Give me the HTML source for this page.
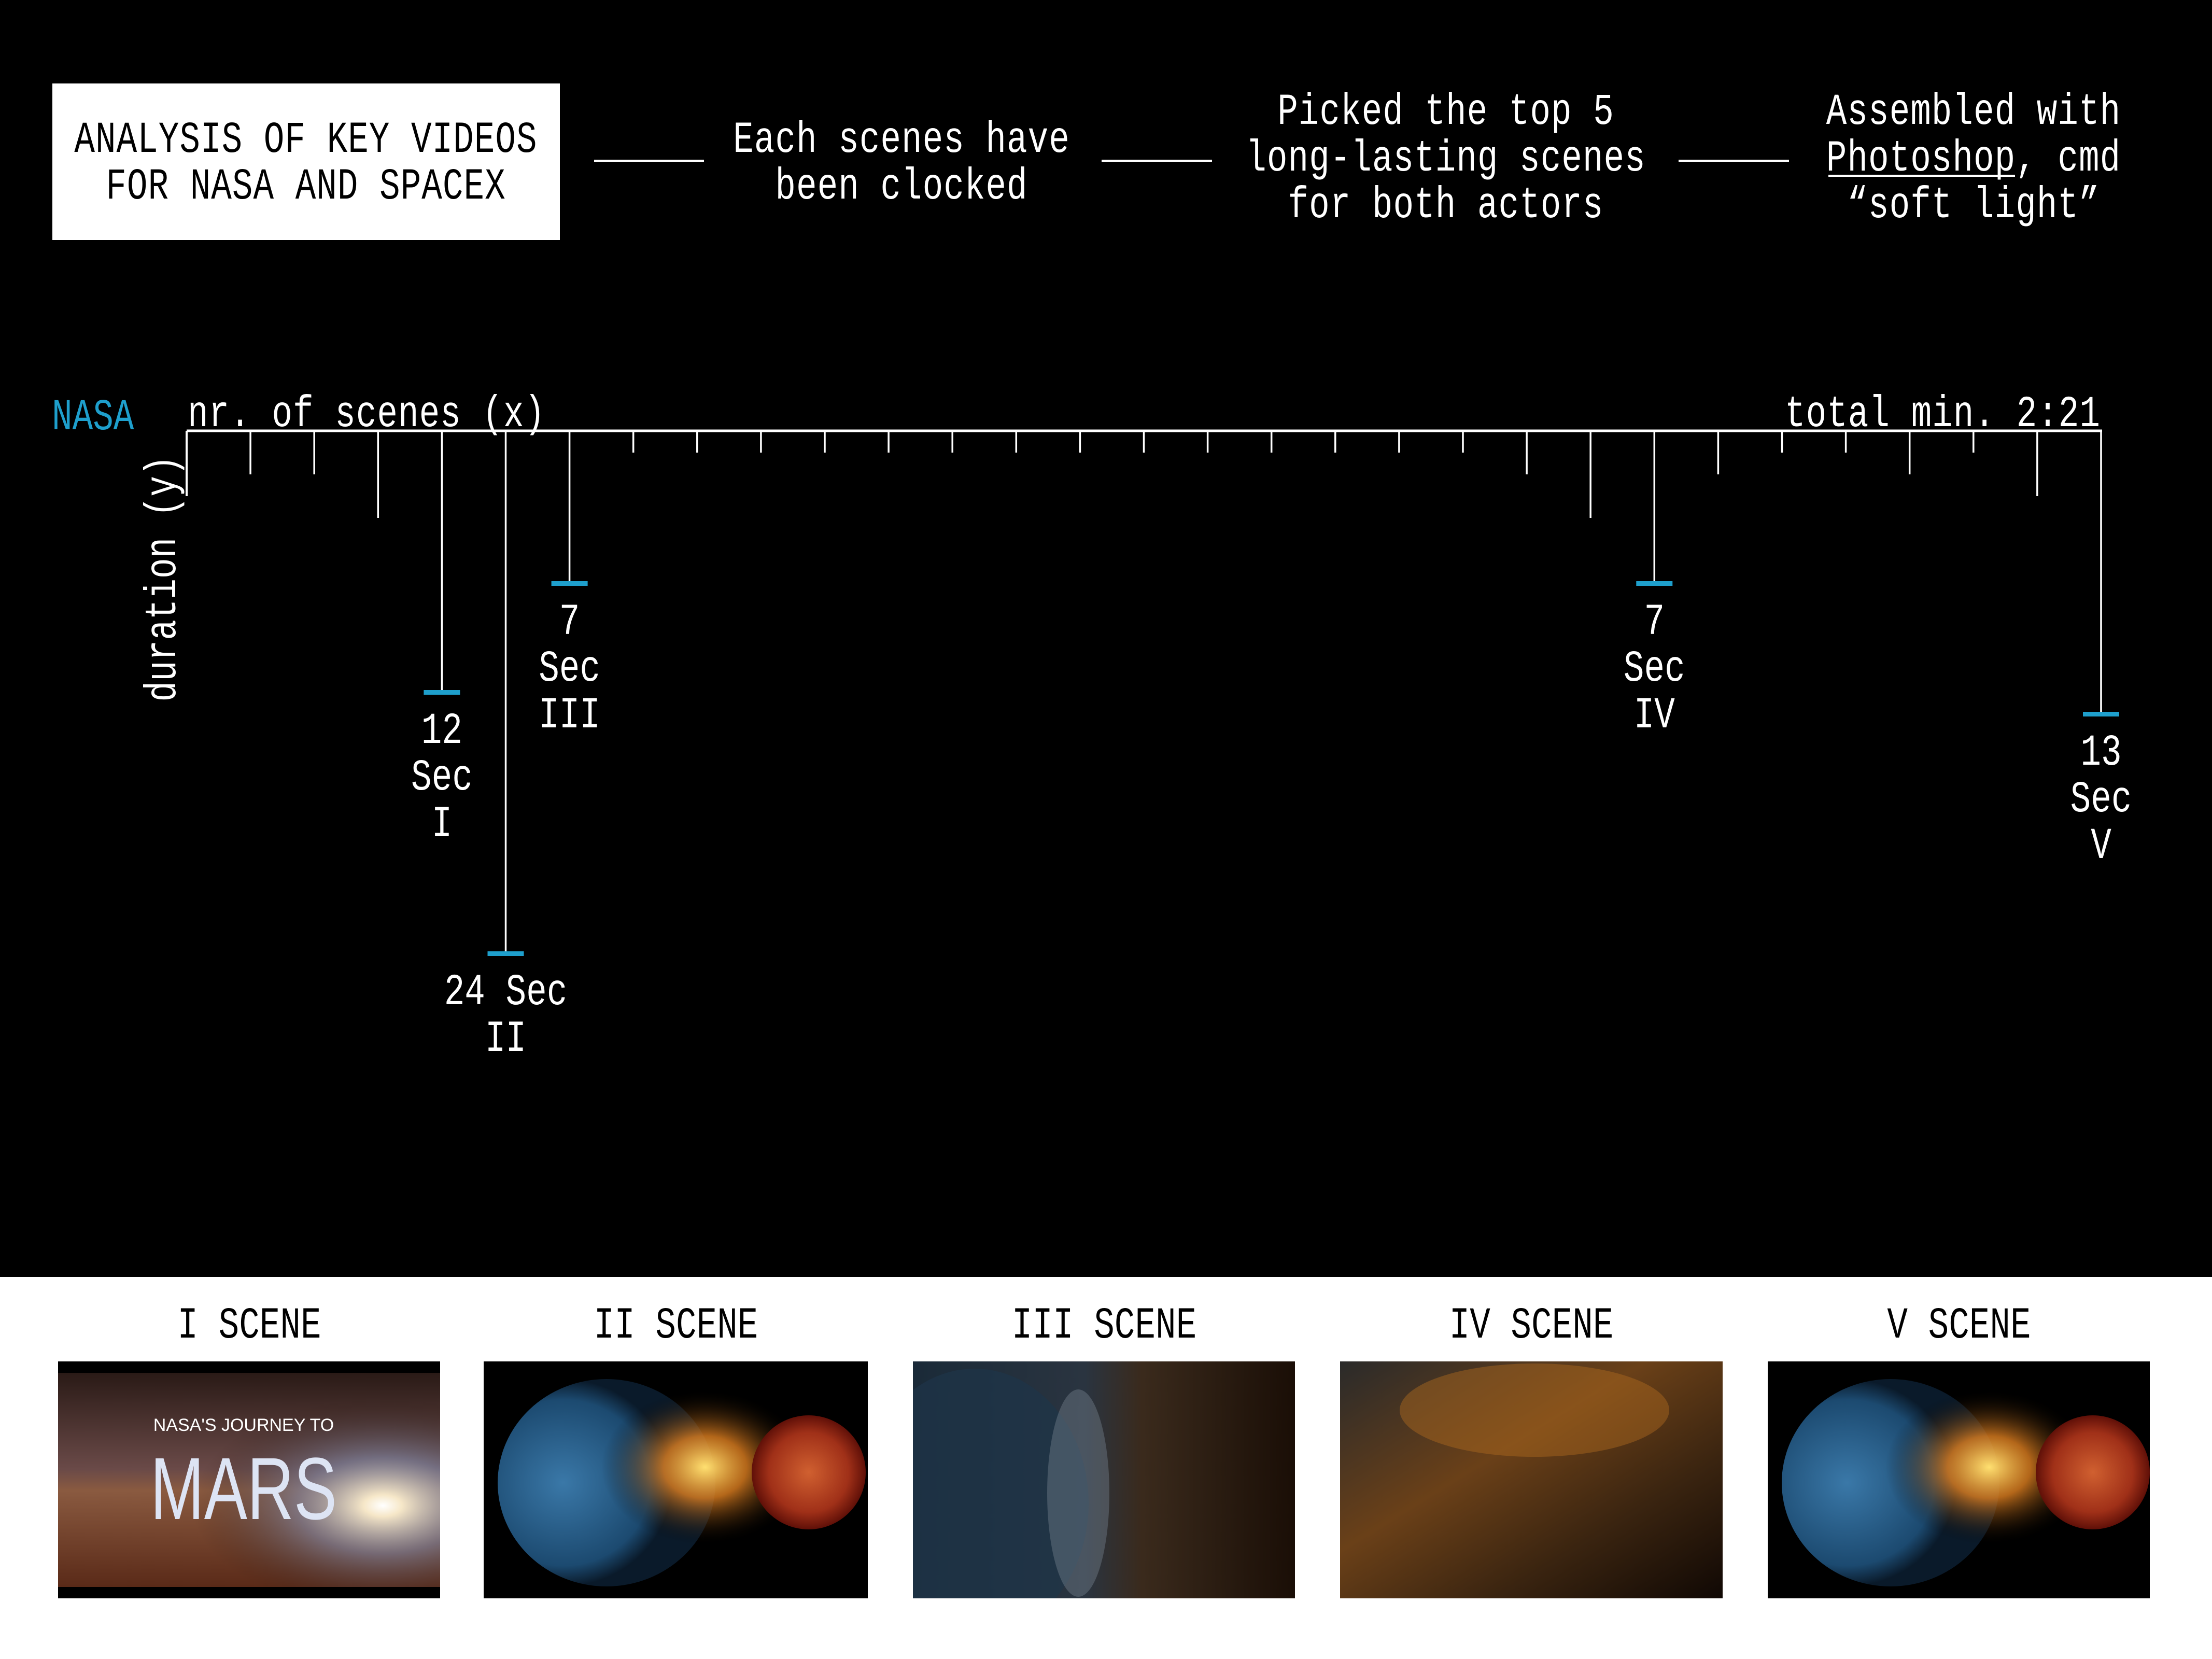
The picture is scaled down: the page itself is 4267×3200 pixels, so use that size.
<!DOCTYPE html>
<html><head><meta charset="utf-8"><style>
html,body{margin:0;padding:0;background:#000;}
svg{display:block;}
.t{font-family:"Liberation Mono",monospace;fill:#fff;}
</style></head><body>
<svg id="chart" width="4267" height="3200" viewBox="0 0 4267 3200" xmlns="http://www.w3.org/2000/svg">
<defs>
<clipPath id="c1"><rect x="112" y="2626" width="737" height="457"/></clipPath>
<clipPath id="c2"><rect x="933" y="2626" width="741" height="457"/></clipPath>
<clipPath id="c3"><rect x="1761" y="2626" width="737" height="457"/></clipPath>
<clipPath id="c4"><rect x="2585" y="2626" width="738" height="457"/></clipPath>
<clipPath id="c5"><rect x="3410" y="2626" width="737" height="457"/></clipPath>
<radialGradient id="sun" cx="0.85" cy="0.62" r="0.5"><stop offset="0" stop-color="#fff"/><stop offset="0.1" stop-color="#f6e7c8"/><stop offset="0.45" stop-color="#7d88a8" stop-opacity="0.6"/><stop offset="1" stop-color="#2a1810" stop-opacity="0"/></radialGradient>
<linearGradient id="mars1" x1="0" y1="0" x2="0" y2="1"><stop offset="0" stop-color="#2a1a16"/><stop offset="0.45" stop-color="#6a4a48"/><stop offset="0.55" stop-color="#8a5a40"/><stop offset="1" stop-color="#5a2a18"/></linearGradient>
<radialGradient id="earth" cx="0.3" cy="0.5" r="0.5"><stop offset="0" stop-color="#3a78a8"/><stop offset="0.8" stop-color="#1c4a70"/><stop offset="1" stop-color="#0a1a2a"/></radialGradient>
<radialGradient id="glow" cx="0.5" cy="0.5" r="0.5"><stop offset="0" stop-color="#ffe070"/><stop offset="0.4" stop-color="#e08020" stop-opacity="0.8"/><stop offset="1" stop-color="#000" stop-opacity="0"/></radialGradient>
<radialGradient id="redp" cx="0.5" cy="0.5" r="0.5"><stop offset="0" stop-color="#d06030"/><stop offset="0.7" stop-color="#a03018"/><stop offset="1" stop-color="#601008"/></radialGradient>
<linearGradient id="dark3" x1="0" y1="0" x2="1" y2="0"><stop offset="0" stop-color="#1a2a38"/><stop offset="0.45" stop-color="#2a3440"/><stop offset="0.6" stop-color="#3a2a1c"/><stop offset="1" stop-color="#1a0e06"/></linearGradient>
<linearGradient id="dark4" x1="0" y1="0" x2="1" y2="1"><stop offset="0" stop-color="#2a2a2a"/><stop offset="0.4" stop-color="#6a4018"/><stop offset="0.7" stop-color="#3a2410"/><stop offset="1" stop-color="#100804"/></linearGradient>
</defs>
<rect x="0" y="0" width="4267" height="3200" fill="#000"/>

<rect x="101" y="161" width="979" height="302" fill="#fff"/>
<g class="t" font-size="66" text-anchor="middle">
<text transform="translate(590,293) scale(1,1.3)" style="fill:#000" letter-spacing="1">ANALYSIS OF KEY VIDEOS</text>
<text transform="translate(590,383) scale(1,1.3)" style="fill:#000" letter-spacing="1">FOR NASA AND SPACEX</text>
</g>
<g stroke="#fff" stroke-width="4">
<line x1="1146" y1="310" x2="1358" y2="310"/>
<line x1="2125" y1="310" x2="2338" y2="310"/>
<line x1="3238" y1="310" x2="3451" y2="310"/>
</g>
<g class="t" font-size="66" text-anchor="middle">
<text transform="translate(1739,293) scale(1,1.3)" letter-spacing="1">Each scenes have</text>
<text transform="translate(1739,383) scale(1,1.3)" letter-spacing="1">been clocked</text>
</g>
<g class="t" font-size="66" text-anchor="middle">
<text transform="translate(2789,239) scale(1,1.3)" letter-spacing="1">Picked the top 5</text>
<text transform="translate(2789,329) scale(1,1.3)" letter-spacing="1">long-lasting scenes</text>
<text transform="translate(2789,419) scale(1,1.3)" letter-spacing="1">for both actors</text>
</g>
<g class="t" font-size="66" text-anchor="middle">
<text transform="translate(3807,239) scale(1,1.3)" letter-spacing="1">Assembled with</text>
<text transform="translate(3807,329) scale(1,1.3)" letter-spacing="1">Photoshop, cmd</text>
<text transform="translate(3807,419) scale(1,1.3)" letter-spacing="1">“soft light”</text>
</g>
<line x1="3527" y1="339" x2="3887" y2="339" stroke="#fff" stroke-width="4"/>

<text class="t" font-size="66" transform="translate(100,828) scale(1,1.3)" style="fill:#1e9fcc">NASA</text>
<text class="t" font-size="66" transform="translate(362,822) scale(1,1.3)" letter-spacing="1">nr. of scenes (x)</text>
<text class="t" font-size="66" text-anchor="end" transform="translate(4052,822) scale(1,1.3)" letter-spacing="1">total min. 2:21</text>
<text class="t" font-size="66" text-anchor="middle" transform="translate(338,1116) rotate(-90) scale(1,1.3)">duration (y)</text>

<g id="plot"></g>

<rect x="0" y="2463" width="4267" height="737" fill="#fff"/>
<g class="t" font-size="66" text-anchor="middle">
<text transform="translate(481,2580) scale(1,1.3)" style="fill:#000">I SCENE</text>
<text transform="translate(1304,2580) scale(1,1.3)" style="fill:#000">II SCENE</text>
<text transform="translate(2130,2580) scale(1,1.3)" style="fill:#000">III SCENE</text>
<text transform="translate(2954,2580) scale(1,1.3)" style="fill:#000">IV SCENE</text>
<text transform="translate(3779,2580) scale(1,1.3)" style="fill:#000">V SCENE</text>
</g>
<g clip-path="url(#c1)">
<rect x="112" y="2626" width="737" height="457" fill="#000"/>
<rect x="112" y="2648" width="737" height="413" fill="url(#mars1)"/>
<rect x="112" y="2648" width="737" height="413" fill="url(#sun)"/>
<text x="470" y="2760" font-family="Liberation Sans,sans-serif" font-size="34" fill="#fff" text-anchor="middle">NASA'S JOURNEY TO</text>
<text x="470" y="2930" font-family="Liberation Sans,sans-serif" font-size="170" fill="#dde4f4" text-anchor="middle" textLength="360" lengthAdjust="spacingAndGlyphs">MARS</text>
</g>
<g clip-path="url(#c2)">
<rect x="933" y="2626" width="741" height="457" fill="#000"/>
<ellipse cx="1170" cy="2860" rx="210" ry="200" fill="url(#earth)"/>
<ellipse cx="1360" cy="2830" rx="200" ry="150" fill="url(#glow)"/>
<circle cx="1560" cy="2840" r="110" fill="url(#redp)"/>
</g>
<g clip-path="url(#c3)">
<rect x="1761" y="2626" width="737" height="457" fill="url(#dark3)"/>
<ellipse cx="1880" cy="2900" rx="220" ry="260" fill="#1e3448" opacity="0.7"/>
<ellipse cx="2080" cy="2880" rx="60" ry="200" fill="#7a8894" opacity="0.4"/>
</g>
<g clip-path="url(#c4)">
<rect x="2585" y="2626" width="738" height="457" fill="url(#dark4)"/>
<ellipse cx="2960" cy="2720" rx="260" ry="90" fill="#b06a20" opacity="0.45"/>
</g>
<g clip-path="url(#c5)">
<rect x="3410" y="2626" width="737" height="457" fill="#000"/>
<ellipse cx="3647" cy="2860" rx="210" ry="200" fill="url(#earth)"/>
<ellipse cx="3837" cy="2830" rx="200" ry="150" fill="url(#glow)"/>
<circle cx="4037" cy="2840" r="110" fill="url(#redp)"/>
</g>
</svg>
<script>
const durations = [2,2,4,12,24,7,1,1,1,1,1,1,1,1,1,1,1,1,1,1,2,4,7,2,1,1,2,1,3,13];
const highlightScenes = [4,5,6,23,30];
const highlightValues = ["12","24","7","7","13"];
const highlightNumerals = ["I","II","III","IV","V"];
const originDuration = 3;

const NS = "http://www.w3.org/2000/svg";
const plot = document.getElementById('plot');
const x0 = 360, step = 123.1, y0 = 831, perSec = 42;
function xScale(i){ return x0 + step*i; }
function yScale(s){ return y0 + perSec*s; }
function mk(tag, attrs){ const e=document.createElementNS(NS,tag); for(const k in attrs) e.setAttribute(k,attrs[k]); plot.appendChild(e); return e; }

const axis = mk('line',{x1:xScale(0),y1:y0,x2:xScale(durations.length)+2,y2:y0,stroke:'#fff','stroke-width':5});


const yax = mk('line',{x1:xScale(0),y1:y0,x2:xScale(0),y2:yScale(originDuration),stroke:'#fff','stroke-width':4});



durations.forEach((d,k)=>{
  const i=k+1;
  const ln = mk('line',{x1:xScale(i),y1:y0,x2:xScale(i),y2:yScale(d),stroke:'#fff','stroke-width':3.5});
  
  
});

highlightScenes.forEach((i,j)=>{
  const d = durations[i-1];
  const x = xScale(i), y = yScale(d);
  const m = mk('rect',{x:x-35,y:y-4,width:70,height:9,fill:'#1e9fcc'});
  
  
  const lines = (j===1) ? [highlightValues[j]+' Sec', highlightNumerals[j]] : [highlightValues[j],'Sec',highlightNumerals[j]];
  lines.forEach((s,n)=>{
    const t = mk('text',{class:'t','font-size':66,'text-anchor':'middle',transform:`translate(${x},${y+98+90*n}) scale(1,1.3)`});
    t.textContent = s;
    
    
  });
});
</script>
</body></html>
